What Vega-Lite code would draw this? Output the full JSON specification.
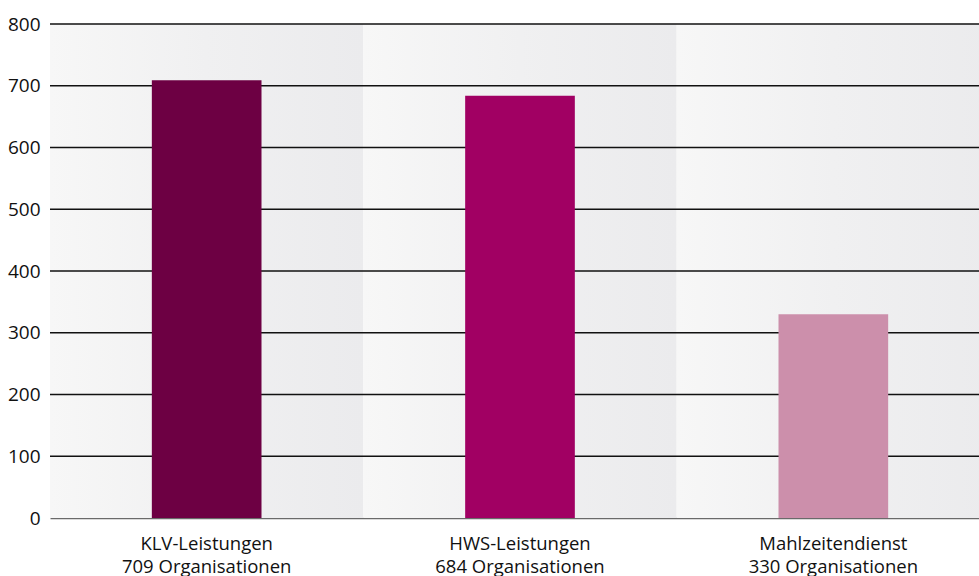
{
  "$schema": "https://vega.github.io/schema/vega-lite/v6.json",
  "width": 929,
  "height": 494,
  "autosize": "none",
  "padding": {"left": 50, "top": 24, "right": 0, "bottom": 58},
  "background": "white",
  "config": {"view": {"stroke": null}},
  "data": {
    "values": [
      {"cat": "KLV-Leistungen\n709 Organisationen", "value": 709},
      {"cat": "HWS-Leistungen\n684 Organisationen", "value": 684},
      {"cat": "Mahlzeitendienst\n330 Organisationen", "value": 330}
    ]
  },
  "layer": [
    {
      "mark": {
        "type": "bar",
        "width": {"band": 1},
        "fill": {
          "gradient": "linear",
          "x1": 0, "y1": 0, "x2": 1, "y2": 0,
          "stops": [
            {"offset": 0, "color": "#f7f7f7"},
            {"offset": 0.5, "color": "#f0f0f1"},
            {"offset": 1, "color": "#ebebed"}
          ]
        }
      },
      "encoding": {
        "x": {"field": "cat", "type": "nominal", "sort": null},
        "y": {"datum": 800, "type": "quantitative"},
        "y2": {"datum": 0}
      }
    },
    {
      "data": {"values": [{"g": 100}, {"g": 200}, {"g": 300}, {"g": 400}, {"g": 500}, {"g": 600}, {"g": 700}, {"g": 800}]},
      "mark": {"type": "rule", "color": "#111111", "strokeWidth": 1.4},
      "encoding": {
        "y": {"field": "g", "type": "quantitative"}
      }
    },
    {
      "mark": {"type": "bar", "width": {"band": 0.35}},
      "encoding": {
        "x": {
          "field": "cat", "type": "nominal", "sort": null,
          "scale": {"paddingInner": 0, "paddingOuter": 0, "range": [0, 940]},
          "axis": {
            "title": null, "labelAngle": 0, "ticks": false,
            "domain": true, "domainColor": "#6a6a6a", "domainWidth": 1.5,
            "labelExpr": "split(datum.label, '\\n')",
            "labelAlign": "center",
            "labelFont": "Open Sans", "labelFontSize": 18.5,
            "labelColor": "#111111", "labelPadding": 25, "labelLineHeight": 23
          }
        },
        "y": {
          "field": "value", "type": "quantitative",
          "scale": {"domain": [0, 800], "nice": false},
          "axis": {
            "title": null, "grid": false, "ticks": false, "domain": false,
            "values": [0, 100, 200, 300, 400, 500, 600, 700, 800],
            "labelPadding": 10, "labelFont": "Open Sans", "labelFontSize": 19,
            "labelColor": "#111111"
          }
        },
        "color": {
          "field": "cat", "type": "nominal", "sort": null, "legend": null,
          "scale": {"range": ["#6d0043", "#a10063", "#cc8fab"]}
        }
      }
    }
  ]
}
